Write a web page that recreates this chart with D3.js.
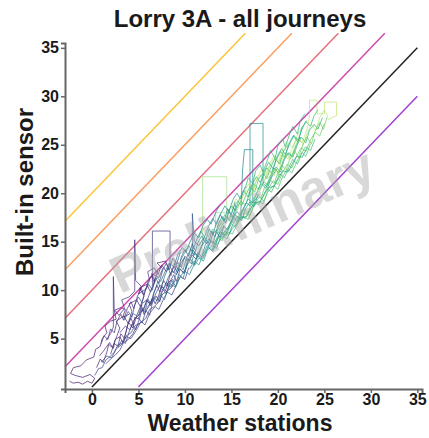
<!DOCTYPE html>
<html>
<head>
<meta charset="utf-8">
<script src="https://cdn.jsdelivr.net/npm/d3@7"></script>
<style>
  body { margin: 0; background: #fff; }
  text { font-family: "Liberation Sans", Arial, sans-serif; }
</style>
</head>
<body>
<div id="chart"></div>
<script>
var width = 429, height = 438;

// reference lines y = x + offset
var refOffsets = [20, 15, 10, 5, 0, -5];
var refColours = ["#fcc438", "#fa9e5e", "#e56f7c", "#cf4aae", "#222222", "#a23fd1"];

var xTicks = [0, 5, 10, 15, 20, 25, 30, 35];
var yTicks = [5, 10, 15, 20, 25, 30, 35];

// colour value (viridis 0..1) of each journey
var journeyShade = [0.08, 0.12, 0.15, 0.18, 0.22, 0.28, 0.35, 0.45, 0.52, 0.60, 0.66, 0.72, 0.80, 0.86, 0.76, 0.40,
                    0.10, 0.14, 0.20, 0.25, 0.17, 0.38, 0.47, 0.55, 0.50, 0.62, 0.68, 0.70, 0.64, 0.74, 0.84, 0.88,
                    0.58, 0.66, 0.30, 0.12, 0.42, 0.78, 0.22];

// [weather station, built-in sensor] readings per journey
var journeys = [
  [[-2.4,0.6],[-2.0,0.4],[-1.5,0.5],[-1.0,0.3],[-0.5,0.6],[0.0,0.4],[0.3,0.9],[-0.2,1.3],[-1.0,1.0],[-1.8,1.2],[-2.3,1.4],[-2.0,2.0],[-1.2,2.2],[-0.6,2.8],[0.2,3.1],[0.4,3.9],[0.9,4.2],[1.1,5.0],[1.6,5.6],[1.4,6.3],[2.0,6.8],[2.6,7.0],[2.4,7.9],[3.1,8.2],[3.6,8.0],[3.3,7.2],[4.0,7.5]],
  [[0.8,3.2],[1.3,3.8],[1.9,4.6],[2.2,4.1],[2.7,5.3],[3.0,6.1],[2.6,6.8],[3.4,7.3],[3.9,6.6],[4.3,7.8],[4.0,8.6],[4.8,9.0],[5.2,8.3],[5.6,9.4],[5.1,10.2],[5.9,10.6],[6.3,9.8],[6.8,10.9],[6.4,11.7],[7.2,11.3],[7.6,12.2],[7.0,12.8],[7.9,13.0],[8.3,12.1]],
  [[1.5,4.8],[2.0,5.5],[2.3,6.2],[2.3,11.4],[2.4,8.0],[2.9,7.4],[3.5,8.1],[3.2,9.0],[4.0,9.3],[4.6,9.9],[4.6,15.2],[4.7,11.0],[5.3,10.4],[5.0,9.6],[5.8,10.1],[6.2,11.0],[6.0,11.9],[6.7,12.3],[7.1,11.6],[7.5,12.6],[8.0,11.9],[8.4,12.8]],
  [[3.0,5.6],[3.6,6.3],[4.1,5.9],[4.5,6.9],[5.0,7.4],[5.4,8.6],[6.0,9.1],[6.5,10.4],[6.5,16.1],[8.4,16.1],[8.4,12.4],[8.8,11.8],[9.2,12.9],[9.6,12.4],[10.0,13.5],[10.5,13.0],[10.9,14.1],[11.3,13.6]],
  [[1.0,2.6],[1.6,3.2],[2.1,3.0],[2.6,3.9],[3.2,4.4],[3.7,5.2],[4.2,5.0],[4.8,5.9],[5.3,6.8],[5.7,6.4],[6.2,7.6],[6.8,8.3],[7.2,8.0],[7.7,9.1],[8.1,9.8],[8.6,9.5],[9.1,10.6],[9.5,11.4],[10.0,11.1],[10.4,12.3]],
  [[4.0,6.8],[4.4,7.6],[4.9,7.3],[5.5,8.0],[5.9,8.9],[6.4,8.6],[6.9,9.7],[7.3,10.5],[7.8,10.2],[8.2,11.3],[8.6,12.0],[9.1,11.6],[9.5,12.7],[9.9,13.3],[10.3,13.0],[10.8,14.0],[10.8,17.9],[11.0,15.0],[11.5,14.6],[12.0,15.4]],
  [[5.5,7.8],[6.1,8.4],[6.6,9.3],[7.0,8.9],[7.6,10.0],[8.0,10.8],[8.5,10.3],[9.0,11.5],[9.4,12.2],[9.9,11.8],[10.3,12.9],[10.8,13.6],[11.2,13.2],[11.7,14.3],[12.1,15.0],[12.6,14.6],[13.0,15.8],[13.5,16.3]],
  [[8.0,9.8],[8.5,10.6],[9.0,10.3],[9.4,11.2],[9.9,12.0],[10.5,11.6],[11.0,12.7],[11.4,13.5],[11.9,13.2],[12.4,14.3],[12.8,15.1],[13.3,14.7],[13.7,15.9],[14.2,16.6],[14.6,16.2],[15.1,17.4],[15.6,18.1],[16.0,17.7],[16.2,22.4],[16.4,24.5],[17.3,24.5],[17.3,19.0],[17.8,19.6]],
  [[10.5,12.2],[11.0,13.0],[11.5,12.6],[12.0,13.8],[12.4,14.6],[12.9,14.1],[13.4,15.3],[13.8,16.0],[14.3,15.6],[14.8,16.8],[15.2,17.5],[15.7,17.1],[16.2,18.3],[16.6,19.0],[17.0,18.7],[17.0,24.5],[17.0,27.2],[18.4,27.2],[18.4,21.0],[18.9,20.6],[19.4,21.8],[19.9,22.5]],
  [[12.0,13.5],[12.5,14.4],[13.0,14.0],[13.5,15.2],[14.0,16.0],[14.4,15.6],[15.0,16.9],[15.4,17.8],[15.9,17.3],[16.4,18.6],[16.8,19.4],[17.3,19.0],[17.8,20.2],[18.2,21.0],[18.7,20.5],[19.2,21.8],[19.6,22.6],[20.1,22.1],[20.6,23.4],[21.0,24.1],[21.5,23.8],[22.0,25.0],[22.4,25.8]],
  [[13.5,15.8],[14.0,16.7],[14.5,17.5],[15.0,17.0],[15.5,18.3],[16.0,19.2],[16.5,18.8],[17.0,20.1],[17.4,21.0],[17.9,20.4],[18.4,21.7],[18.8,22.6],[19.3,22.1],[19.8,23.4],[20.3,24.3],[20.7,23.7],[21.2,25.0],[21.7,25.9],[22.1,25.3],[22.6,26.6],[23.0,27.4],[23.5,26.9],[23.9,28.0],[24.3,28.6]],
  [[14.0,15.3],[14.6,16.0],[15.1,15.8],[15.7,16.9],[16.2,17.6],[16.8,17.3],[17.3,18.5],[17.9,19.2],[18.4,18.9],[18.9,20.1],[19.5,20.8],[20.0,20.4],[20.5,21.7],[21.0,22.5],[21.5,22.1],[22.1,23.4],[22.6,24.2],[23.0,23.8],[23.5,25.1]],
  [[11.5,14.0],[11.9,14.8],[11.9,21.7],[14.5,21.7],[14.5,18.0],[13.3,18.0],[13.3,16.5],[14.0,16.9],[14.6,17.8],[15.1,18.6],[15.6,18.2],[16.1,19.5],[16.6,20.3],[17.1,19.8],[17.6,21.1],[18.1,21.9],[18.6,21.4],[19.1,22.7],[19.6,23.6],[20.1,23.1],[20.6,24.4],[21.1,25.2],[21.6,24.7],[22.1,26.0],[22.6,26.8]],
  [[17.0,19.6],[17.5,20.5],[18.0,20.1],[18.6,21.4],[19.1,22.3],[19.6,21.8],[20.1,23.1],[20.6,24.0],[21.1,23.5],[21.6,24.8],[22.1,25.7],[22.6,25.2],[23.1,26.5],[23.4,27.9],[23.4,29.6],[24.2,29.6],[24.2,28.2],[25.0,28.2],[25.0,29.4],[26.3,29.4],[26.3,28.0],[25.4,27.6]],
  [[16.0,17.1],[16.5,18.0],[17.0,17.7],[17.5,18.9],[18.0,19.6],[18.5,19.2],[19.0,20.5],[19.5,21.3],[20.0,20.9],[20.5,22.2],[21.0,23.0],[21.5,22.6],[22.0,23.8],[22.5,24.7],[23.0,24.3],[23.5,25.5],[24.0,26.3],[24.5,25.9],[25.0,27.2]],
  [[6.5,10.5],[7.0,11.3],[7.4,10.9],[7.9,12.0],[8.3,12.8],[8.8,12.4],[9.2,13.6],[9.7,14.4],[10.1,13.9],[10.6,15.1],[11.0,15.9],[11.5,15.4],[11.9,16.6],[12.4,17.3],[12.8,16.8],[13.3,18.0],[13.7,18.7]],
  [[0.5,2.0],[0.9,2.9],[1.2,2.5],[1.6,3.6],[1.8,4.4],[2.3,4.0],[2.5,4.9],[3.0,5.2],[3.3,4.6],[3.7,5.8],[3.9,6.7],[4.4,6.1],[4.6,7.2],[5.1,7.0],[5.4,8.1],[5.6,7.5],[6.1,8.3],[6.5,9.2],[6.8,8.6],[7.2,9.5],[7.5,10.4],[7.9,9.9],[8.2,10.8],[8.7,11.1]],
  [[2.0,3.4],[2.4,4.5],[2.8,4.2],[3.1,5.5],[3.5,5.0],[3.8,6.3],[4.2,7.1],[4.5,6.4],[4.9,7.6],[5.3,8.5],[5.5,7.8],[5.9,9.0],[6.3,8.4],[6.6,9.6],[7.0,10.5],[7.3,9.8],[7.7,11.0],[8.1,10.4],[8.4,11.6],[8.8,12.5],[9.2,11.8]],
  [[2.8,4.1],[3.2,4.8],[3.6,4.5],[4.0,5.7],[4.3,6.5],[4.7,5.9],[5.1,7.0],[5.4,6.6],[5.8,7.9],[6.2,7.4],[6.5,8.7],[6.9,9.4],[7.3,8.8],[7.6,10.1],[8.0,9.6],[8.4,10.9],[8.8,11.6],[9.1,10.9],[9.5,12.2],[9.9,11.7],[10.3,12.8]],
  [[3.5,6.9],[3.9,7.8],[4.3,7.2],[4.6,8.5],[5.0,9.3],[5.4,8.7],[5.7,9.9],[6.1,10.6],[6.5,10.0],[6.8,11.3],[7.2,10.7],[7.6,12.0],[8.0,12.8],[8.3,12.1],[8.7,13.3],[9.1,12.7],[9.5,13.9]],
  [[1.5,2.4],[2.0,2.9],[2.5,3.3],[3.0,3.8],[3.4,4.6],[3.9,4.9],[4.4,5.5],[4.8,6.3],[5.3,6.7],[5.8,7.1],[6.2,8.0],[6.7,8.3],[7.2,8.8],[7.6,9.6],[8.1,9.9],[8.6,10.3],[9.0,11.1]],
  [[7.0,8.6],[7.4,9.5],[7.8,9.0],[8.2,10.2],[8.6,11.0],[9.0,10.4],[9.4,11.6],[9.8,11.2],[10.2,12.5],[10.6,13.2],[11.0,12.6],[11.4,13.9],[11.8,13.4],[12.2,14.7],[12.6,15.3],[13.0,14.8],[13.4,16.0],[13.8,15.4],[14.2,16.7]],
  [[9.0,11.8],[9.4,12.7],[9.8,12.1],[10.2,13.4],[10.6,14.2],[11.0,13.6],[11.4,14.9],[11.8,15.6],[12.2,15.0],[12.6,16.3],[13.0,15.7],[13.4,17.0],[13.8,17.8],[14.2,17.1],[14.6,18.4],[15.0,17.8],[15.4,19.1]],
  [[11.0,12.5],[11.5,13.3],[12.0,13.0],[12.4,14.1],[12.9,14.6],[13.4,14.3],[13.8,15.4],[14.3,16.1],[14.7,15.7],[15.2,16.9],[15.6,17.6],[16.1,17.2],[16.5,18.4],[17.0,19.1],[17.4,18.6],[17.9,19.9]],
  [[9.5,13.0],[10.0,13.9],[10.4,14.6],[10.8,14.0],[11.3,15.3],[11.7,16.1],[12.1,15.5],[12.6,16.7],[13.0,17.4],[13.4,16.8],[13.9,18.0],[14.3,18.7],[14.7,18.1],[15.2,19.4],[15.6,20.0],[16.0,19.4],[16.5,20.7]],
  [[14.5,17.8],[15.0,18.7],[15.4,18.2],[15.9,19.5],[16.3,20.3],[16.8,19.6],[17.2,20.9],[17.7,21.7],[18.1,21.1],[18.6,22.4],[19.0,23.2],[19.5,22.5],[19.9,23.8],[20.4,24.6],[20.8,24.0],[21.3,25.3],[21.7,26.0],[22.2,25.4],[22.6,26.8],[23.1,27.5]],
  [[15.5,17.0],[16.0,17.6],[16.5,17.4],[17.0,18.3],[17.4,19.1],[17.9,18.8],[18.4,19.7],[18.8,20.5],[19.3,20.1],[19.8,21.2],[20.2,22.0],[20.7,21.6],[21.2,22.7],[21.6,23.5],[22.1,23.0],[22.6,24.2],[23.0,24.8],[23.5,24.4],[24.0,25.6]],
  [[12.5,15.5],[13.0,16.3],[13.4,15.9],[13.9,17.0],[14.3,17.8],[14.8,17.3],[15.2,18.5],[15.7,19.2],[16.1,18.7],[16.6,19.9],[17.0,20.7],[17.5,20.1],[17.9,21.4],[18.4,22.1],[18.8,21.5],[19.3,22.8],[19.7,23.6],[20.2,23.0],[20.6,24.3],[21.1,25.0]],
  [[18.0,20.3],[18.5,21.2],[18.9,20.8],[19.4,22.0],[19.8,22.7],[20.3,22.2],[20.7,23.5],[21.2,24.2],[21.6,23.7],[22.1,25.0],[22.5,25.8],[23.0,25.2],[23.4,26.5],[23.9,27.1],[24.3,26.6],[24.8,27.8]],
  [[13.0,14.6],[13.5,15.4],[14.0,15.1],[14.4,16.2],[14.9,16.9],[15.4,16.5],[15.8,17.7],[16.3,18.4],[16.8,18.0],[17.2,19.2],[17.7,19.9],[18.2,19.5],[18.6,20.7],[19.1,21.4],[19.6,21.0],[20.0,22.1],[20.5,22.9]],
  [[19.0,21.5],[19.5,22.4],[20.0,22.0],[20.4,23.3],[20.9,24.1],[21.4,23.5],[21.8,24.8],[22.3,25.6],[22.7,25.0],[23.2,26.3],[23.6,27.1],[24.1,26.5],[24.5,27.8],[25.0,28.6],[25.4,27.9]],
  [[15.0,18.5],[15.5,19.4],[16.0,18.9],[16.4,20.2],[16.9,21.0],[17.4,20.4],[17.8,21.7],[18.3,22.5],[18.7,21.9],[19.2,23.2],[19.6,23.9],[20.1,23.3],[20.5,24.6],[21.0,25.4]],
  [[13.0,14.2],[13.6,14.9],[14.1,15.6],[14.5,15.3],[15.1,16.4],[15.6,16.8],[16.0,17.5],[16.6,17.6],[17.1,18.4],[17.5,19.0],[18.1,19.1],[18.6,20.0],[19.0,20.6],[19.6,20.7],[20.1,21.6],[20.5,22.3],[21.1,22.2],[21.6,23.1],[22.0,23.8],[22.6,23.7],[23.1,24.6]],
  [[16.5,20.5],[16.8,21.6],[17.3,21.0],[17.6,22.3],[18.1,22.9],[18.4,22.2],[18.9,23.5],[19.2,24.4],[19.7,23.6],[20.0,24.9],[20.5,25.6],[20.8,24.8],[21.3,26.2],[21.6,26.9],[22.1,26.1],[22.4,27.5],[22.9,28.2]],
  [[5.0,7.0],[5.3,8.2],[5.7,7.7],[6.0,9.1],[6.4,8.5],[6.7,9.8],[7.1,10.9],[7.4,10.1],[7.8,11.4],[8.2,12.3],[8.5,11.5],[8.9,12.8],[9.3,12.0],[9.6,13.4],[10.0,14.2],[10.4,13.5],[10.8,14.8],[11.1,14.1]],
  [[1.0,4.5],[1.3,5.3],[1.7,4.9],[2.0,6.0],[2.4,5.6],[2.7,6.8],[3.1,7.5],[3.4,6.9],[3.8,8.1],[4.2,8.8],[4.5,8.1],[4.9,9.4],[5.3,10.2],[5.6,9.5],[6.0,10.8],[6.4,11.5],[6.7,10.8],[7.1,12.1]],
  [[10.0,12.0],[10.3,13.2],[10.7,12.7],[11.0,13.9],[11.4,13.4],[11.8,14.6],[12.1,15.5],[12.5,14.8],[12.9,16.1],[13.2,15.5],[13.6,16.8],[14.0,17.6],[14.4,16.9],[14.7,18.1],[15.1,17.5],[15.5,18.8]],
  [[20.0,21.8],[20.4,22.9],[20.9,22.4],[21.3,23.6],[21.8,24.4],[22.2,23.7],[22.7,25.0],[23.1,25.8],[23.6,25.1],[24.0,26.4],[24.5,27.3],[24.9,26.6],[25.3,27.9]],
  [[0.3,1.2],[0.7,1.9],[1.1,2.0],[1.5,2.8],[1.9,3.1],[2.4,3.6],[2.8,4.4],[3.3,4.5],[3.7,5.3],[4.2,5.6],[4.6,6.3],[5.1,6.6]]
];

var xMin = -2.9, xMax = 35.5, yMin = -0.2, yMax = 35.5;

var svg = d3.select("#chart").append("svg")
  .attr("width", width)
  .attr("height", height);

var x = d3.scaleLinear().domain([xMin, xMax]).range([65, 422]);
var y = d3.scaleLinear().domain([yMin, yMax]).range([389, 43]);

// reference lines, kept inside x >= xMin, y >= 0 and below the panel top
refOffsets.forEach(function(c, i){
  var x0 = Math.max(xMin, -c);
  var x1 = Math.min(35, 36.5 - c);
  svg.append("line")
    .attr("x1", x(x0)).attr("y1", y(x0 + c))
    .attr("x2", x(x1)).attr("y2", y(x1 + c))
    .attr("stroke", refColours[i])
    .attr("stroke-width", 1.5);
});

var line = d3.line()
  .x(function(d){ return x(d[0]); })
  .y(function(d){ return y(d[1]); });

svg.append("g")
  .selectAll("path")
  .data(journeys)
  .enter()
  .append("path")
  .attr("d", line)
  .attr("fill", "none")
  .attr("stroke", function(d, i){ return d3.interpolateViridis(journeyShade[i]); })
  .attr("stroke-opacity", function(d, i){ return journeyShade[i] > 0.78 ? 0.55 : 0.8; })
  .attr("stroke-width", 0.9);

// watermark
svg.append("text")
  .attr("transform", "translate(242,220) rotate(-24)")
  .attr("text-anchor", "middle")
  .attr("dy", "0.35em")
  .attr("font-size", 52)
  .attr("font-weight", "bold")
  .attr("fill", "#a8a8a8")
  .attr("fill-opacity", 0.45)
  .text("Preliminary");

// axes
var xAxis = svg.append("g")
  .attr("transform", "translate(0,389)")
  .call(d3.axisBottom(x).tickValues(xTicks).tickSize(4).tickPadding(1));
var yAxis = svg.append("g")
  .attr("transform", "translate(65,0)")
  .call(d3.axisLeft(y).tickValues(yTicks).tickSize(4).tickPadding(2));

[xAxis, yAxis].forEach(function(a){
  a.select(".domain").attr("stroke", "#666").attr("stroke-width", 2);
  a.selectAll(".tick line").attr("stroke", "#666").attr("stroke-width", 1.5);
  a.selectAll(".tick text")
    .attr("fill", "#1a1a1a")
    .attr("font-size", 16)
    .attr("font-weight", "bold")
    .style("font-family", "'Liberation Sans', Arial, sans-serif");
});

svg.append("text")
  .attr("x", 240).attr("y", 27)
  .attr("text-anchor", "middle")
  .attr("font-size", 24)
  .attr("font-weight", "bold")
  .attr("fill", "#1a1a1a")
  .text("Lorry 3A - all journeys");

svg.append("text")
  .attr("x", 240).attr("y", 431)
  .attr("text-anchor", "middle")
  .attr("font-size", 23)
  .attr("font-weight", "bold")
  .attr("fill", "#1a1a1a")
  .text("Weather stations");

svg.append("text")
  .attr("transform", "translate(33,192) rotate(-90)")
  .attr("text-anchor", "middle")
  .attr("font-size", 24)
  .attr("font-weight", "bold")
  .attr("fill", "#1a1a1a")
  .text("Built-in sensor");
</script>
</body>
</html>
